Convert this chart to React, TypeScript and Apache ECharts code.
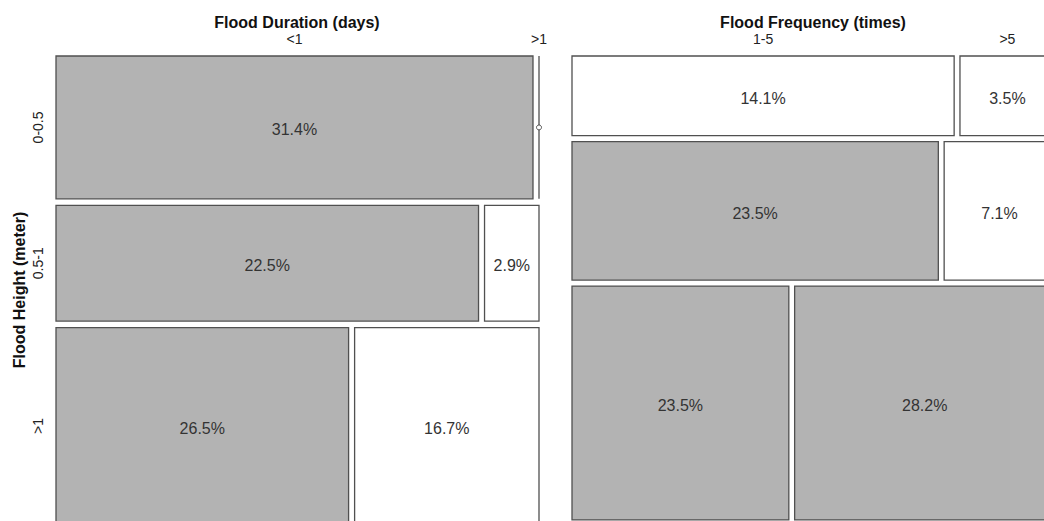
import React, { useEffect, useRef } from "react";
import * as echarts from "echarts";

// ---- data ----
const heightRows = ["0-0.5", "0.5-1", ">1"];
const durationCols = ["<1", ">1"];
const frequencyCols = ["1-5", ">5"];
// percentages (rows = flood height, cols = duration / frequency)
const durationValues = [
  [31.4, 0],
  [22.5, 2.9],
  [26.5, 16.7],
];
const frequencyValues = [
  [14.1, 3.5],
  [23.5, 7.1],
  [23.5, 28.2],
];
// shaded (grey) cells
const durationShaded = [
  [true, false],
  [true, false],
  [true, false],
];
const frequencyShaded = [
  [false, false],
  [true, false],
  [true, true],
];

const FONT = "'Liberation Sans', Arial, Helvetica, sans-serif";
const GREY = "#b3b3b3";
const EDGE = "#505050";

function sum(a: number[]) {
  return a.reduce((s, v) => s + v, 0);
}

function makeRender(
  values: number[][],
  shaded: boolean[][],
  colLabels: string[],
  rowLabels: string[] | null,
  gapX: number,
  gapY: number
) {
  const rowTotals = values.map(sum);
  return (params: any, api: any) => {
    const i = api.value(0) as number;
    const j = api.value(1) as number;
    const v = values[i][j];
    const yStart = sum(rowTotals.slice(0, i)) + i * gapY;
    const yEnd = yStart + rowTotals[i];
    const xStart = (sum(values[i].slice(0, j)) / rowTotals[i]) * 100 + j * gapX;
    const xEnd = xStart + (v / rowTotals[i]) * 100;
    const p0 = api.coord([xStart, yStart]);
    const p1 = api.coord([xEnd, yEnd]);
    const x0 = Math.min(p0[0], p1[0]);
    const x1 = Math.max(p0[0], p1[0]);
    const y0 = Math.min(p0[1], p1[1]);
    const y1 = Math.max(p0[1], p1[1]);
    const children: any[] = [];
    if (v === 0) {
      children.push({
        type: "line",
        shape: { x1: x0, y1: y0, x2: x0, y2: y1 },
        style: { stroke: EDGE, lineWidth: 1.3 },
      });
      children.push({
        type: "circle",
        shape: { cx: x0, cy: (y0 + y1) / 2, r: 2.5 },
        style: { fill: "#fff", stroke: EDGE, lineWidth: 1 },
      });
    } else {
      children.push({
        type: "rect",
        shape: { x: x0, y: y0, width: x1 - x0, height: y1 - y0 },
        style: {
          fill: shaded[i][j] ? GREY : "#fff",
          stroke: EDGE,
          lineWidth: 1.3,
        },
      });
      children.push({
        type: "text",
        style: {
          x: (x0 + x1) / 2,
          y: (y0 + y1) / 2 + 2.5,
          text: v.toFixed(1) + "%",
          fill: "#333",
          font: `16px ${FONT}`,
          align: "center",
          verticalAlign: "middle",
        },
      });
    }
    if (i === 0) {
      children.push({
        type: "text",
        style: {
          x: (x0 + x1) / 2,
          y: y0 - 17,
          text: colLabels[j],
          fill: "#222",
          font: `14px ${FONT}`,
          align: "center",
          verticalAlign: "middle",
        },
      });
    }
    if (rowLabels && j === 0) {
      children.push({
        type: "text",
        x: x0 - 18,
        y: (y0 + y1) / 2,
        rotation: Math.PI / 2,
        style: {
          x: 0,
          y: 0,
          text: rowLabels[i],
          fill: "#222",
          font: `14px ${FONT}`,
          align: "center",
          verticalAlign: "middle",
        },
      });
    }
    return { type: "group", children };
  };
}

function cells(values: number[][]) {
  const out: number[][] = [];
  values.forEach((row, i) => row.forEach((v, j) => out.push([i, j, v])));
  return out;
}

// gaps between tiles, in axis units
const LEFT_GAP_X = 1.26;
const LEFT_GAP_Y = 1.45;
const RIGHT_GAP_X = 1.22;
const RIGHT_GAP_Y = 1.33;
// visible axis windows (the plot runs past the picture's bottom / right edge)
const LEFT_X_MAX = 101.26;
const LEFT_Y_MAX = 102.2;
const RIGHT_X_MAX = 98.95;
const RIGHT_Y_MAX = 102.8;

export default function App() {
  const ref = useRef<HTMLDivElement>(null);
  useEffect(() => {
    if (!ref.current) return;
    const chart = echarts.init(ref.current, null, { renderer: "svg" });
    const hiddenAxis = {
      show: false,
      axisLine: { show: false },
      axisTick: { show: false },
      axisLabel: { show: false },
      splitLine: { show: false },
    };
    chart.setOption({
      animation: false,
      backgroundColor: "#fff",
      grid: [
        { left: 56, top: 56, width: 483, height: 465 },
        { left: 572, top: 56, width: 472, height: 465 },
      ],
      xAxis: [
        { type: "value", gridIndex: 0, min: 0, max: LEFT_X_MAX, ...hiddenAxis },
        { type: "value", gridIndex: 1, min: 0, max: RIGHT_X_MAX, ...hiddenAxis },
      ],
      yAxis: [
        {
          type: "value",
          gridIndex: 0,
          inverse: true,
          min: 0,
          max: LEFT_Y_MAX,
          ...hiddenAxis,
        },
        {
          type: "value",
          gridIndex: 1,
          inverse: true,
          min: 0,
          max: RIGHT_Y_MAX,
          ...hiddenAxis,
        },
      ],
      graphic: [
        {
          type: "text",
          x: 297,
          y: 22,
          style: {
            text: "Flood Duration (days)",
            font: `bold 16px ${FONT}`,
            fill: "#111",
            align: "center",
            verticalAlign: "middle",
          },
        },
        {
          type: "text",
          x: 813,
          y: 22,
          style: {
            text: "Flood Frequency (times)",
            font: `bold 16px ${FONT}`,
            fill: "#111",
            align: "center",
            verticalAlign: "middle",
          },
        },
        {
          type: "text",
          x: 19,
          y: 290,
          rotation: Math.PI / 2,
          style: {
            text: "Flood Height (meter)",
            font: `bold 16px ${FONT}`,
            fill: "#111",
            align: "center",
            verticalAlign: "middle",
          },
        },
      ],
      series: [
        {
          type: "custom",
          xAxisIndex: 0,
          yAxisIndex: 0,
          data: cells(durationValues),
          renderItem: makeRender(
            durationValues,
            durationShaded,
            durationCols,
            heightRows,
            LEFT_GAP_X,
            LEFT_GAP_Y
          ),
          clip: false,
          silent: true,
        },
        {
          type: "custom",
          xAxisIndex: 1,
          yAxisIndex: 1,
          data: cells(frequencyValues),
          renderItem: makeRender(
            frequencyValues,
            frequencyShaded,
            frequencyCols,
            null,
            RIGHT_GAP_X,
            RIGHT_GAP_Y
          ),
          clip: false,
          silent: true,
        },
      ],
    });
    return () => chart.dispose();
  }, []);
  return (
    <div
      ref={ref}
      style={{ position: "fixed", left: 0, top: 0, width: 1044, height: 521 }}
    />
  );
}
